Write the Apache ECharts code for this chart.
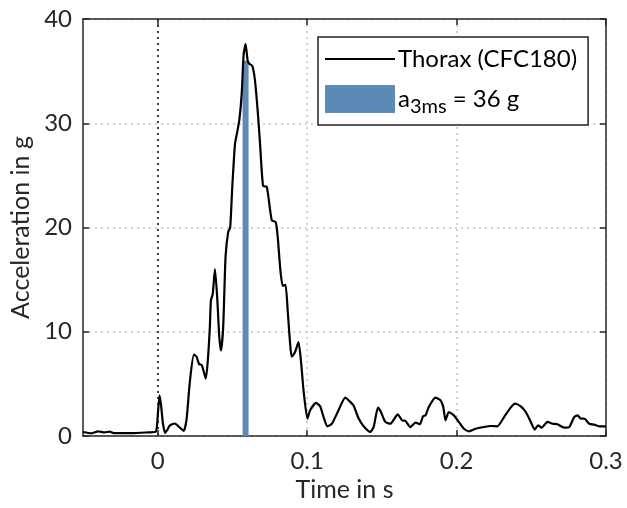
<!DOCTYPE html>
<html><head><meta charset="utf-8">
<script src="https://cdn.jsdelivr.net/npm/echarts@6/dist/echarts.min.js"></script>
<style>html,body{margin:0;padding:0;background:#fff}#c{width:627px;height:508px}</style>
</head><body><div id="c"></div>
<script>
const timeS = [-0.05,-0.0443,-0.0398,-0.0356,-0.0322,-0.0289,-0.0174,-0.0062,-0.0013,0.0003,0.0012,0.0022,0.0035,0.005,0.0065,0.008,0.0114,0.0148,0.0174,0.0193,0.0215,0.0242,0.026,0.0277,0.0295,0.0322,0.0338,0.0349,0.0356,0.0368,0.0383,0.0398,0.0412,0.0423,0.0438,0.0454,0.0472,0.0485,0.0499,0.0517,0.053,0.0546,0.0562,0.0575,0.0588,0.0602,0.0613,0.0633,0.0651,0.0669,0.0685,0.0705,0.073,0.0763,0.079,0.0803,0.0821,0.0837,0.0855,0.087,0.0886,0.0897,0.0919,0.0942,0.096,0.0975,0.1002,0.102,0.106,0.1087,0.111,0.1136,0.1166,0.121,0.1255,0.1289,0.131,0.1345,0.1378,0.1423,0.1445,0.1474,0.1494,0.1523,0.1557,0.158,0.1606,0.1636,0.1658,0.1691,0.1725,0.1754,0.1776,0.1792,0.1814,0.1859,0.1893,0.1911,0.1926,0.1948,0.1982,0.2015,0.2049,0.2083,0.2128,0.2183,0.2228,0.2273,0.2318,0.2362,0.2391,0.243,0.2463,0.2497,0.2523,0.2546,0.2568,0.2609,0.2642,0.2676,0.272,0.2754,0.2787,0.281,0.2832,0.2854,0.2888,0.2921,0.2955,0.3];
const accelG = [0.38,0.26,0.45,0.35,0.42,0.27,0.27,0.35,0.4,2.5,3.9,3.0,1.2,0.3,0.6,1.0,1.2,0.8,0.5,1.6,5.2,7.8,7.6,6.9,6.8,5.5,7.8,10.5,13.0,13.6,16.0,13.3,9.5,8.2,10.4,17.2,19.6,20.0,23.9,28.0,29.0,30.3,32.8,36.6,37.6,36.0,35.7,35.5,34.1,31.2,28.0,24.0,23.9,20.7,20.5,19.1,15.9,14.4,14.5,12.0,8.85,7.6,8.05,9.0,7.0,4.5,1.67,2.47,3.17,2.85,1.82,0.93,1.18,2.47,3.68,3.26,2.94,1.67,0.93,0.39,0.86,2.72,2.3,1.35,1.18,1.57,2.08,1.5,1.44,0.86,1.28,1.12,1.9,1.98,2.78,3.68,3.42,2.78,1.5,2.3,1.98,1.35,0.7,0.45,0.7,0.86,0.96,0.93,1.82,2.72,3.1,2.85,2.3,1.35,0.62,1.03,0.8,1.35,1.18,1.12,0.8,0.86,1.82,1.98,1.67,1.67,1.18,1.09,0.93,0.93];
const xTicks = [0, 0.1, 0.2, 0.3];
const yTicks = [0, 10, 20, 30, 40];
const a3msStart = 0.0568, a3msEnd = 0.0608, a3msValue = 36;
const lineName = 'Thorax (CFC180)';
const barName = 'a3ms';

const axisColor = '#262626';
const font = 'Lato';
const fs = 24;
const fsTitle = 25;
const barColor = '#5a8ab5';

const chart = echarts.init(document.getElementById('c'));
const lineData = timeS.map((t, i) => [t, accelG[i]]);

const axisBase = {
  axisLine: {show: true, onZero: false, lineStyle: {color: axisColor, width: 1.5}},
  axisTick: {show: true, inside: true, length: 6, lineStyle: {color: axisColor, width: 1.5}},
};

chart.setOption({
  animation: false,
  backgroundColor: '#fff',
  grid: {left: 83, right: 21, top: 19, bottom: 72, containLabel: false},
  legend: {
    orient: 'vertical', left: 318, top: 37,
    itemWidth: 70, itemHeight: 28, itemGap: 14,
    padding: [10, 11, 8, 7],
    backgroundColor: '#fff', borderColor: '#222', borderWidth: 1.5, borderRadius: 0,
    symbolKeepAspect: true,
    data: [
      {name: lineName, icon: 'path://M0,0H70V2H0Z', itemStyle: {color: '#000', borderWidth: 0}},
      {name: barName, icon: 'rect', itemStyle: {color: barColor, borderWidth: 0}}
    ],
    formatter: n => n === barName ? `{n|a}{s|3ms}{n| = ${a3msValue} g}` : n,
    textStyle: {
      fontSize: fs, fontFamily: font, color: '#000', padding: [0, 0, 0, -2],
      rich: {
        n: {fontSize: fs, fontFamily: font, color: '#000'},
        s: {fontSize: 20, fontFamily: font, color: '#000', padding: [16, 0, 0, 0]}
      }
    }
  },
  xAxis: [
    Object.assign({}, axisBase, {
      type: 'value', min: -0.05, max: 0.3, position: 'bottom',
      name: 'Time in s', nameLocation: 'middle', nameGap: 41,
      nameTextStyle: {fontSize: fsTitle, fontFamily: font, color: axisColor},
      axisTick: Object.assign({}, axisBase.axisTick, {customValues: xTicks}),
      axisLabel: {customValues: xTicks, fontSize: fs, fontFamily: font, color: axisColor, margin: 13, formatter: v => String(v)},
      splitLine: {show: true, lineStyle: {type: [2, 4], width: 1.5, color: ['#000', '#c4c4c4', '#c4c4c4', '#c4c4c4']}}
    }),
    Object.assign({}, axisBase, {
      type: 'value', min: -0.05, max: 0.3, position: 'top',
      axisTick: Object.assign({}, axisBase.axisTick, {customValues: xTicks}),
      axisLabel: {show: false}, splitLine: {show: false}
    })
  ],
  yAxis: [
    Object.assign({}, axisBase, {
      type: 'value', min: 0, max: 40, interval: 10, position: 'left',
      name: 'Acceleration in g', nameLocation: 'middle', nameGap: 46,
      nameTextStyle: {fontSize: fsTitle, fontFamily: font, color: axisColor},
      axisLabel: {fontSize: fs, fontFamily: font, color: axisColor, margin: 11},
      splitLine: {show: true, lineStyle: {type: [2, 4], width: 1.5, color: '#c4c4c4'}}
    }),
    Object.assign({}, axisBase, {
      type: 'value', min: 0, max: 40, interval: 10, position: 'right',
      axisLabel: {show: false}, splitLine: {show: false}
    })
  ],
  series: [
    {
      type: 'custom', name: barName, z: 2,
      data: [[a3msStart, a3msEnd, a3msValue]],
      encode: {x: [0, 1], y: 2},
      itemStyle: {color: barColor},
      renderItem: (params, api) => {
        const p0 = api.coord([api.value(0), api.value(2)]);
        const p1 = api.coord([api.value(1), 0]);
        return {type: 'rect', shape: {x: p0[0], y: p0[1], width: p1[0] - p0[0], height: p1[1] - p0[1]}, style: {fill: barColor}};
      }
    },
    {
      type: 'line', name: lineName, z: 3, data: lineData,
      showSymbol: false, smooth: 0.2, color: '#000',
      lineStyle: {color: '#000', width: 2.2}
    }
  ]
});
</script></body></html>
